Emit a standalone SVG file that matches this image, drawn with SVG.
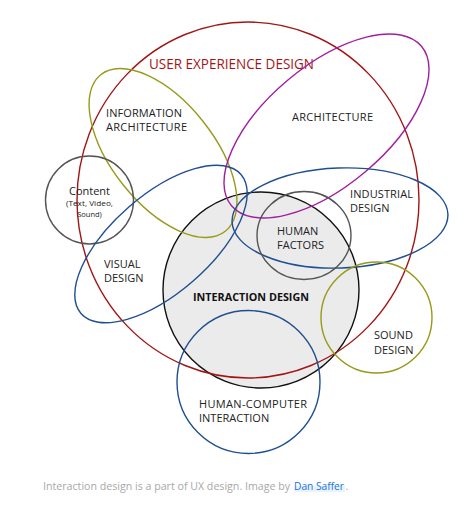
<svg xmlns="http://www.w3.org/2000/svg" width="465" height="512" viewBox="0 0 465 512">
<style>
.s{fill:none;stroke-width:1.4}
.t{font-family:"Open Sans","Noto Sans",sans-serif;font-size:11px;fill:#222}
.cap{font-family:"Open Sans","Noto Sans",sans-serif;font-size:10.5px;fill:#a8a8a8}
.red{stroke:#a31515}
.olive{stroke:#99991a}
.mag{stroke:#a01fa0}
.blue{stroke:#1f4f8f}
.gray{stroke:#555}
</style>
<rect width="465" height="512" fill="#fff"/>
<g id="interaction-design"><circle cx="261" cy="290" r="98" fill="#ebebeb" stroke="#111" stroke-width="1.4"/></g>
<g id="connectors"></g>
<g id="user-experience-design"><ellipse class="s red" cx="248" cy="200" rx="171" ry="178"/>
<text x="149" y="69" textLength="165" lengthAdjust="spacingAndGlyphs" class="t" style="font-size:14.5px;fill:#a31515">USER EXPERIENCE DESIGN</text></g>
<g id="information-architecture"><ellipse class="s olive" cx="163" cy="153" rx="100" ry="51" transform="rotate(51.5 163 153)"/>
<text class="t" x="106" y="117" textLength="76">INFORMATION</text><text class="t" x="106" y="131" textLength="81">ARCHITECTURE</text></g>
<g id="architecture"><ellipse class="s mag" cx="326.5" cy="126" rx="124" ry="60" transform="rotate(-40 326.5 126)"/>
<text class="t" x="292" y="121" textLength="81">ARCHITECTURE</text></g>
<g id="content"><circle class="s gray" cx="89.5" cy="200" r="44"/>
<text class="t" x="89.5" y="195" text-anchor="middle">Content</text>
<text class="t" x="66" y="206" textLength="47" lengthAdjust="spacingAndGlyphs" style="font-size:7.5px">(Text, Video,</text>
<text class="t" x="89.5" y="216.5" text-anchor="middle" style="font-size:7.5px">Sound)</text></g>
<g id="visual-design"><ellipse class="s blue" cx="161" cy="244" rx="106" ry="49" transform="rotate(-41 161 244)"/>
<text class="t" x="104" y="268">VISUAL</text><text class="t" x="104" y="282">DESIGN</text></g>
<g id="industrial-design"><ellipse class="s blue" cx="340" cy="218" rx="108" ry="50" transform="rotate(-2 340 218)"/>
<text class="t" x="350" y="198" textLength="63">INDUSTRIAL</text><text class="t" x="350" y="212">DESIGN</text></g>
<g id="human-factors"><ellipse class="s gray" cx="304" cy="235.5" rx="47" ry="44"/>
<text class="t" x="277" y="235">HUMAN</text><text class="t" x="277" y="249">FACTORS</text></g>
<g id="interaction-design-label"><text class="t" x="193" y="301" textLength="116" lengthAdjust="spacingAndGlyphs" style="font-weight:bold;font-size:11px;fill:#111">INTERACTION DESIGN</text></g>
<g id="sound-design"><circle class="s olive" cx="376.5" cy="317.5" r="55.5"/>
<text class="t" x="374" y="339">SOUND</text><text class="t" x="374" y="354">DESIGN</text></g>
<g id="human-computer-interaction"><circle class="s blue" cx="248.5" cy="382" r="71.5"/>
<text class="t" x="199" y="408" textLength="108">HUMAN-COMPUTER</text><text class="t" x="199" y="422">INTERACTION</text></g>
<g id="caption">
<rect x="294" y="486" width="51" height="6" fill="#eaf2fc"/>
<text class="cap" x="43" y="490" textLength="247" lengthAdjust="spacingAndGlyphs">Interaction design is a part of UX design. Image by</text>
<text class="cap" x="294" y="490" textLength="50" lengthAdjust="spacingAndGlyphs" style="fill:#1473e6">Dan Saffer</text>
<text class="cap" x="345.5" y="490">.</text>
</g>
</svg>
